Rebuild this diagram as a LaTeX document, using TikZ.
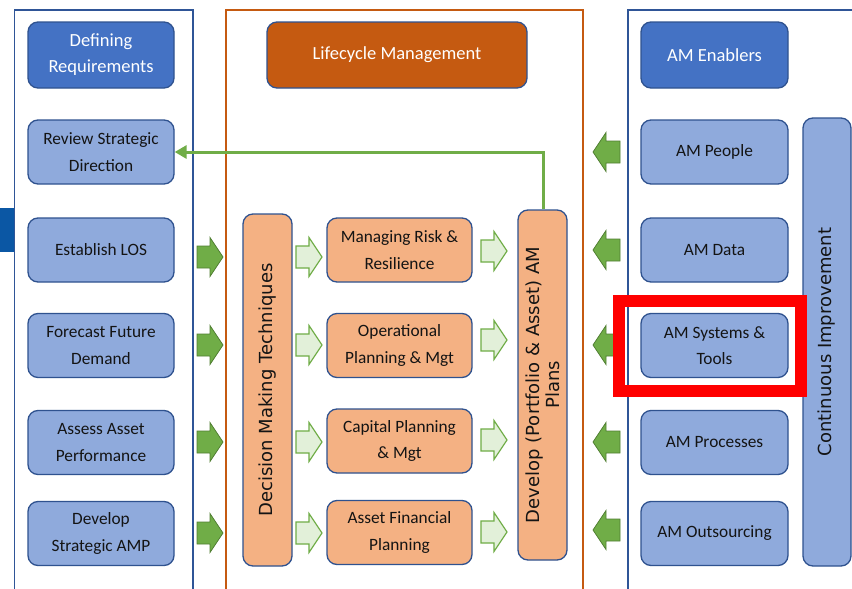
\documentclass[tikz,border=0pt]{standalone}
\usepackage{fontspec}
\setmainfont{Carlito}
\newfontfamily\vfont{DejaVu Sans}
\usetikzlibrary{arrows.meta}
\definecolor{hdrblue}{HTML}{4472C4}
\definecolor{lblue}{HTML}{8FAADC}
\definecolor{bord}{HTML}{2F528F}
\definecolor{panelblue}{HTML}{2F5597}
\definecolor{orng}{HTML}{C55A11}
\definecolor{lorng}{HTML}{F4B183}
\definecolor{grn}{HTML}{70AD47}
\definecolor{dgrn}{HTML}{507E32}
\definecolor{lgrn}{HTML}{E2F0D9}
\definecolor{barblue}{HTML}{0B57A4}
\definecolor{txt}{HTML}{141414}
\tikzset{
  base/.style={draw=bord, line width=1.3pt, rounded corners=10pt, align=center, inner sep=0pt},
  hdr/.style={base, text=white, font=\fontsize{18.5}{26}\selectfont, minimum height=66pt},
  lbox/.style={base, fill=lblue, text=txt, font=\fontsize{17.3}{26.5}\selectfont, minimum width=146pt, minimum height=64pt},
  obox/.style={base, fill=lorng, text=txt, font=\fontsize{17.3}{26.5}\selectfont, minimum width=145pt, minimum height=64pt},
  vbox/.style={base, text=txt, minimum height=49pt, font=\vfont\fontsize{18}{20}\selectfont, rotate=90},
  panel/.style={line width=1.2pt},
  solidarrow/.style={fill=grn, draw=dgrn, line width=0.8pt},
  hollowarrow/.style={fill=lgrn, draw=grn, line width=1.2pt},
  rarr/.pic={\path[pic actions] (0,-11) -- (13,-11) -- (13,-19.5) -- (26,0) -- (13,19.5) -- (13,11) -- (0,11) -- cycle;},
  larr/.pic={\path[pic actions] (0,0) -- (13,-19.5) -- (13,-11) -- (27,-11) -- (27,11) -- (13,11) -- (13,19.5) -- cycle;},
}
\begin{document}
\begin{tikzpicture}[x=1pt,y=-1pt]
\useasboundingbox (0,0) rectangle (852,589);
\clip (0,0) rectangle (852,589);
\fill[white] (0,0) rectangle (852,589);

% panels
\draw[panel, draw=panelblue] (14.5,10) rectangle (193,600);
\draw[panel, draw=orng] (226,10) rectangle (583,600);
\draw[panel, draw=panelblue] (628,10) rectangle (880,600);
\fill[barblue] (0,208) rectangle (14,252);

% left column
\node[hdr, fill=hdrblue, minimum width=146pt] (defreq) at (101,55) {Defining\\Requirements};
\node[lbox] (review) at (101,152) {Review Strategic\\Direction};
\node[lbox] (los) at (101,250) {Establish LOS};
\node[lbox] (forecast) at (101,345.5) {Forecast Future\\Demand};
\node[lbox] (assess) at (101,442.5) {Assess Asset\\Performance};
\node[lbox] (devamp) at (101,533.5) {Develop\\Strategic AMP};

% middle column
\node[hdr, fill=orng, minimum width=260pt] (lcm) at (397,55) {Lifecycle Management};
\node[vbox, fill=lorng, minimum width=352pt] (dmt) at (267.5,390) {Decision Making Techniques};
\node[obox] (risk) at (399.5,250) {Managing Risk \&\\Resilience};
\node[obox] (oper) at (399.5,345.5) {Operational\\Planning \& Mgt};
\node[obox] (capital) at (399.5,441) {Capital Planning\\\& Mgt};
\node[obox] (finance) at (399.5,532.5) {Asset Financial\\Planning};
\node[vbox, fill=lorng, minimum width=350pt] (plans) at (542.5,385) {Develop (Portfolio \& Asset) AM\\Plans};

% right column
\node[hdr, fill=hdrblue, minimum width=147pt] (enablers) at (714.5,55) {AM Enablers};
\node[lbox, minimum width=147pt] (people) at (714.5,152) {AM People};
\node[lbox, minimum width=147pt] (data) at (714.5,250) {AM Data};
\node[lbox, minimum width=147pt] (systems) at (714.5,345.5) {AM Systems \&\\Tools};
\node[lbox, minimum width=147pt] (processes) at (714.5,442.5) {AM Processes};
\node[lbox, minimum width=147pt] (outsourcing) at (714.5,533.5) {AM Outsourcing};
\node[vbox, fill=lblue, minimum width=448pt, minimum height=48pt] (ci) at (827,342) {Continuous Improvement};

% block arrows: left column to lifecycle
\pic[solidarrow] (a1) at (197,257) {rarr};
\pic[solidarrow] (a2) at (197,345) {rarr};
\pic[solidarrow] (a3) at (197,442) {rarr};
\pic[solidarrow] (a4) at (197,533) {rarr};

% hollow arrows: decision making to planning boxes
\pic[hollowarrow] (b1) at (296,257) {rarr};
\pic[hollowarrow] (b2) at (296,345) {rarr};
\pic[hollowarrow] (b3) at (296,442) {rarr};
\pic[hollowarrow] (b4) at (296,533) {rarr};

% hollow arrows: planning boxes to plans
\pic[hollowarrow] (c1) at (481,251) {rarr};
\pic[hollowarrow] (c2) at (481,340) {rarr};
\pic[hollowarrow] (c3) at (481,440) {rarr};
\pic[hollowarrow] (c4) at (481,532) {rarr};

% solid arrows: enablers to lifecycle
\pic[solidarrow] (d1) at (593,152) {larr};
\pic[solidarrow] (d2) at (593,250) {larr};
\pic[solidarrow] (d3) at (593,345) {larr};
\pic[solidarrow] (d4) at (593,442) {larr};
\pic[solidarrow] (d5) at (593,530) {larr};

% feedback connector
\draw[grn, line width=3pt, -{Triangle[length=12pt,width=13pt]}] ([xshift=0.5pt]plans.east) |- (review.east);

% highlight
\node[draw=red, line width=12pt, minimum width=182pt, minimum height=90pt, inner sep=0pt] (hl) at (710,346) {};
\end{tikzpicture}
\end{document}
